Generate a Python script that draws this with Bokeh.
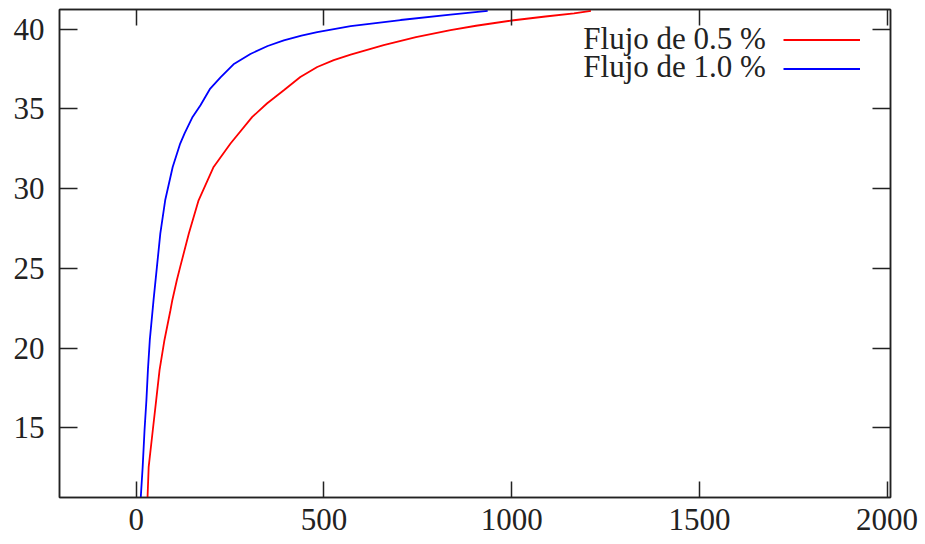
from bokeh.plotting import figure
from bokeh.models import (Range1d, FixedTicker, LinearAxis, CustomJSTickFormatter,
                          Legend, LegendItem, Label, ColumnDataSource)
from bokeh.embed import file_html
from bokeh.resources import INLINE

# ---- data ----
red_label = "Flujo de 0.5 %"
blue_label = "Flujo de 1.0 %"

red_y = [10.64, 12.52, 14.84, 16.72, 18.61, 20.49, 22.37, 23.0, 24.25, 25.09, 27.18, 29.27,
         31.36, 32.83, 34.5, 35.34, 36.17, 37.0, 37.63, 38.06, 38.41, 39.0, 39.5, 39.95,
         40.22, 40.55, 40.8, 41.0, 41.16]
red_x = [30, 33, 44, 53, 62, 75, 91, 96, 108, 117, 140, 166,
         206, 251, 309, 348, 393, 437, 482, 526, 571, 659, 745, 837,
         905, 1000, 1090, 1166, 1211]

blue_y = [10.64, 12.52, 14.84, 16.72, 18.61, 20.49, 23.0, 25.09, 27.18, 29.27, 31.36,
          32.83, 33.48, 34.5, 35.23, 36.28, 37.0, 37.8, 38.45, 38.95, 39.3, 39.6, 39.82,
          40.2, 40.58, 40.92, 41.16]
blue_x = [12, 17, 22, 27, 31, 36, 46, 55, 64, 77, 97,
          117, 129, 150, 171, 197, 225, 259, 304, 350, 393, 440, 482,
          571, 704, 837, 936]

x_ticks = [0, 500, 1000, 1500, 2000]
y_ticks = [15, 20, 25, 30, 35, 40]

FONT = "Liberation Serif"
FS = "31px"
INK = "#222222"

p = figure(width=925, height=544, output_backend="svg", toolbar_location=None,
           x_range=Range1d(-204.5, 2009), y_range=Range1d(10.62, 41.24),
           min_border_left=59, min_border_right=35, min_border_top=9, min_border_bottom=47)
p.xgrid.visible = False
p.ygrid.visible = False
p.background_fill_color = "white"
p.border_fill_color = "white"
p.outline_line_color = INK
p.outline_line_width = 1.5

def style(ax, ticks, tick_in, labels=True, standoff=0):
    ax.ticker = FixedTicker(ticks=ticks)
    ax.major_tick_in = tick_in
    ax.major_tick_out = 0
    ax.minor_tick_line_color = None
    ax.major_tick_line_color = INK
    ax.major_tick_line_width = 1.5
    ax.axis_line_color = INK
    ax.axis_line_width = 1.5
    ax.major_label_text_font = FONT
    ax.major_label_text_color = INK
    ax.major_label_standoff = standoff
    if labels:
        ax.major_label_text_font_size = FS
    else:
        ax.formatter = CustomJSTickFormatter(code="return ''")
        ax.major_label_text_font_size = "1px"

style(p.xaxis[0], x_ticks, 16, True, 11)
style(p.yaxis[0], y_ticks, 18, True, 15)

top = LinearAxis()
style(top, x_ticks, 16, False)
p.add_layout(top, "above")
right = LinearAxis()
style(right, y_ticks, 18, False)
p.add_layout(right, "right")

src_r = ColumnDataSource(dict(x=red_x, y=red_y))
src_b = ColumnDataSource(dict(x=blue_x, y=blue_y))
r_red = p.line("x", "y", source=src_r, line_color="#ff0000", line_width=1.8)
r_blue = p.line("x", "y", source=src_b, line_color="#0000ff", line_width=1.8)

# legend: text on the left (labels), sample lines on the right (legend)
for txt, yv in [(red_label, 39.42), (blue_label, 37.64)]:
    p.add_layout(Label(x=1677, y=yv, text=txt, text_align="right", text_baseline="middle",
                       text_font=FONT, text_font_size=FS, text_color=INK))

legend = Legend(items=[LegendItem(label=" ", renderers=[r_red]),
                       LegendItem(label=" ", renderers=[r_blue])],
                location=(724, 414), glyph_width=77, glyph_height=29, spacing=0,
                padding=0, margin=0, label_standoff=0, label_width=0, label_height=0,
                label_text_font_size="8px", border_line_alpha=0, background_fill_alpha=0)
p.add_layout(legend)

open("out.html", "w").write(file_html(p, INLINE))
